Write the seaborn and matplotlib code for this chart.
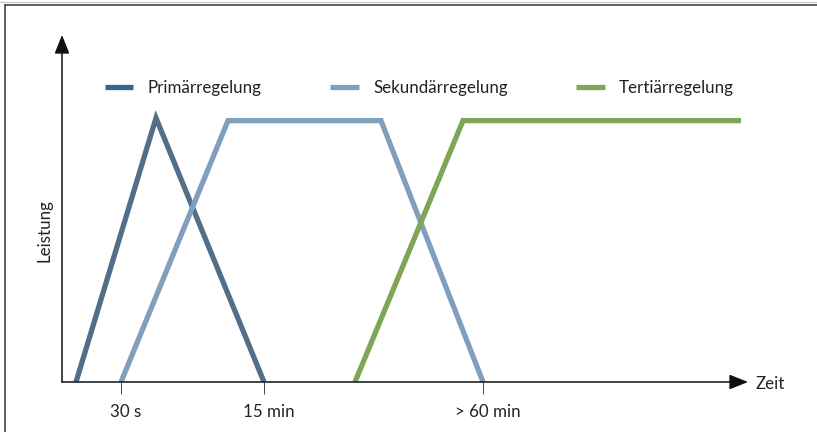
import matplotlib
matplotlib.use("Agg")
import matplotlib.pyplot as plt
import matplotlib.transforms as mtransforms
import seaborn as sns
import pandas as pd
from matplotlib.lines import Line2D

# ---- data (arbitrary time units, power in %) ----
series_names = ["Primärregelung", "Sekundärregelung", "Tertiärregelung"]
primaer_t = [14, 94, 202]
primaer_p = [0, 100, 0]
sekundaer_t = [59, 166, 319, 421]
sekundaer_p = [0, 99, 99, 0]
tertiaer_t = [293, 401, 679]
tertiaer_p = [0, 99, 99]
tick_pos = [59, 202, 421]
tick_labels = ["30 s", "15 min", "> 60 min"]

line_colors = ["#526e88", "#7f9fbd", "#7ea656"]
legend_colors = ["#30698b", "#7f9fbd", "#7ea656"]

rows = []
for name, ts, ps in zip(series_names, [primaer_t, sekundaer_t, tertiaer_t],
                        [primaer_p, sekundaer_p, tertiaer_p]):
    for t, p in zip(ts, ps):
        rows.append({"Zeit": t, "Leistung": p, "Serie": name})
df = pd.DataFrame(rows)

sns.set_theme(style="white")
plt.rcParams["font.family"] = ["Lato", "DejaVu Sans"]

FS = 12.2
W, H = 817, 432
fig = plt.figure(figsize=(W / 100, H / 100), dpi=100)
ax_left, ax_bottom, ax_w, ax_h = 62, 432 - 382, 700, 350
ax = fig.add_axes([ax_left / W, ax_bottom / H, ax_w / W, ax_h / H])

sns.lineplot(data=df, x="Zeit", y="Leistung", hue="Serie", palette=line_colors,
             estimator=None, sort=False, linewidth=3.8, legend=False, ax=ax,
             solid_capstyle="butt", solid_joinstyle="miter")

ax.set_xlim(0, 700)
ax.set_ylim(0, 350 / 2.64)
for s in ax.spines.values():
    s.set_visible(False)
ax.set_xlabel("")
ax.set_ylabel("")
ax.set_yticks([])
ax.set_xticks(tick_pos)
ax.set_xticklabels(tick_labels)
ax.tick_params(axis="x", bottom=True, length=8.6, width=0.7, color="#444444",
               direction="out", pad=7, labelsize=FS, labelcolor="#222222")
offset = mtransforms.ScaledTranslation(5 / 100, 0, fig.dpi_scale_trans)
for lbl in ax.get_xticklabels():
    lbl.set_transform(lbl.get_transform() + offset)

# axes with arrows
arrow_kw = dict(arrowstyle="-|>,head_length=0.95,head_width=0.38", color="#111111",
                lw=1.1, shrinkA=0, shrinkB=0)
ax.annotate("", xy=(686, 0), xytext=(0, 0), arrowprops=arrow_kw, annotation_clip=False)
ax.annotate("", xy=(0, (382 - 35) / 2.64), xytext=(0, 0), arrowprops=arrow_kw,
            annotation_clip=False)

fig.text(756 / W, 1 - 384 / H, "Zeit", ha="left", va="center", fontsize=FS, color="#222222")
fig.text(44 / W, 1 - 231 / H, "Leistung", ha="center", va="center", rotation=90,
         fontsize=FS, color="#222222")

# legend
handles = [Line2D([0], [0], color=c, lw=3.8, solid_capstyle="butt") for c in legend_colors]
leg = fig.legend(handles, series_names, loc="center left",
                 bbox_to_anchor=(105 / W, 1 - 88 / H), ncol=3, frameon=False,
                 fontsize=FS, handlelength=1.68, handletextpad=0.84,
                 columnspacing=4.05, borderpad=0, borderaxespad=0)
for t in leg.get_texts():
    t.set_color("#222222")

# frame lines (top and left)
fig.add_artist(Line2D([5 / W, 1], [1 - 4.5 / H, 1 - 4.5 / H], color="#333333", lw=1.1))
fig.add_artist(Line2D([5 / W, 5 / W], [0, 1 - 4.5 / H], color="#333333", lw=1.1))
fig.add_artist(Line2D([0, 1], [1 - 1.5 / H, 1 - 1.5 / H], color="#cccccc", lw=1.0))

fig.savefig("out.png", dpi=100)
